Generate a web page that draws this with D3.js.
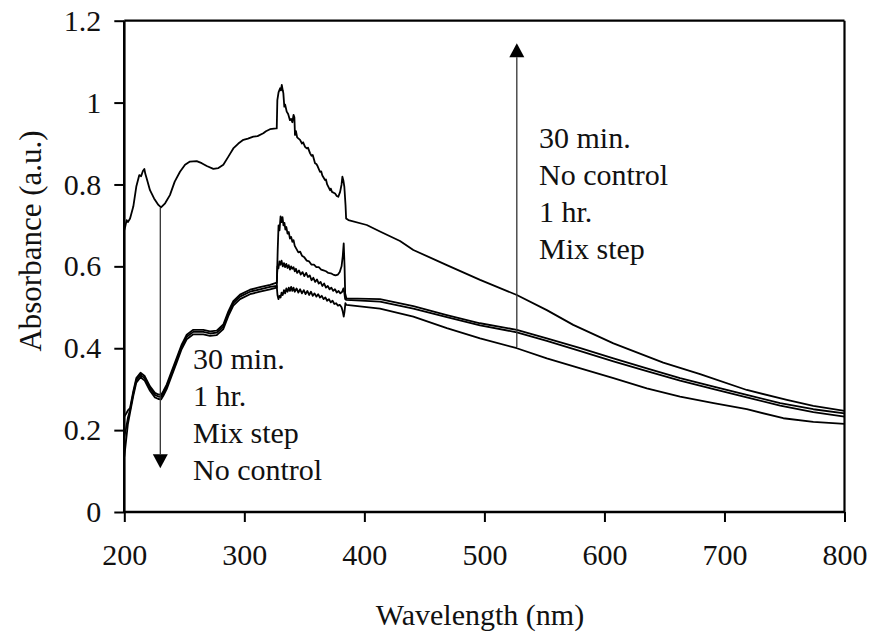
<!DOCTYPE html>
<html><head><meta charset="utf-8">
<script src="https://cdn.jsdelivr.net/npm/d3@7"></script>
<style>html,body{margin:0;padding:0;background:#fff;}</style>
</head>
<body><svg id="chart" width="873" height="639"></svg>
<script>
// ---------- data ----------
const xTicks = [200, 300, 400, 500, 600, 700, 800];
const yTicks = [0, 0.2, 0.4, 0.6, 0.8, 1, 1.2];
const yTickLabels = ["0", "0.2", "0.4", "0.6", "0.8", "1", "1.2"];
const xTitle = "Wavelength (nm)";
const yTitle = "Absorbance (a.u.)";
const labelsDown = ["30 min.", "1 hr.", "Mix step", "No control"];
const labelsUp = ["30 min.", "No control", "1 hr.", "Mix step"];

// [wavelength nm, absorbance]
const thirtyMin = [[200,0.689],[201,0.70],[202,0.713],[203,0.708],[204.8,0.717],[207.5,0.746],[210,0.795],[212.5,0.823],[214,0.82],[215.5,0.833],[216.7,0.838],[217.5,0.826],[218.6,0.815],[221.4,0.786],[224.8,0.766],[228.4,0.750],[230.6,0.744],[234,0.754],[238,0.774],[242,0.807],[246.4,0.831],[250.6,0.848],[254.7,0.856],[260.3,0.857],[264.5,0.852],[268.7,0.845],[274.2,0.838],[278.4,0.840],[282.5,0.848],[286.7,0.868],[290.8,0.888],[295,0.900],[299.2,0.909],[303,0.912],[307.5,0.917],[311,0.918],[315.8,0.925],[318,0.93],[321.4,0.935],[326.4,0.937],[327,0.937],[327.5,1.006],[328.5,1.025],[329.8,1.035],[330.5,1.03],[331.2,1.043],[332,1.03],[332.5,1.023],[333.3,0.99],[334,0.995],[335.3,0.978],[336.5,0.972],[338,0.957],[339,0.96],[340,0.952],[341,0.97],[341.7,0.964],[342.2,0.921],[343,0.93],[344,0.915],[346.4,0.909],[348,0.9],[349,0.903],[350.6,0.892],[352,0.888],[353,0.89],[354.8,0.876],[356,0.87],[357,0.872],[358.9,0.852],[360,0.85],[361,0.845],[363,0.831],[364,0.832],[365,0.822],[367.2,0.811],[368,0.812],[369,0.8],[371.4,0.786],[372,0.79],[373,0.782],[375.6,0.778],[377,0.772],[378.3,0.770],[379.8,0.782],[381,0.80],[381.7,0.819],[382.5,0.81],[383.3,0.795],[384.3,0.75],[384.8,0.717],[386.7,0.713],[402,0.701],[413,0.685],[429.7,0.662],[440.8,0.640],[468.7,0.603],[496.4,0.567],[527,0.530],[552,0.493],[574,0.457],[607.5,0.412],[649,0.365],[679.7,0.337],[718.6,0.298],[752,0.274],[774,0.259],[800,0.247]];

const noControl = [[200,0.135],[201.5,0.175],[203,0.215],[204.8,0.243],[207.5,0.284],[210,0.316],[213.5,0.329],[217,0.321],[221.4,0.296],[225.5,0.280],[228.4,0.276],[230.6,0.275],[232.5,0.284],[235.3,0.300],[239.5,0.333],[243.6,0.365],[247.8,0.398],[252,0.422],[257.5,0.434],[265.8,0.434],[271.4,0.430],[277,0.432],[282.5,0.447],[286.7,0.479],[290.8,0.504],[296.4,0.520],[304.7,0.532],[313,0.538],[321.4,0.544],[327,0.548],
 [327.8,0.64],[328.5,0.70],[329.3,0.688],[330.2,0.722],[331,0.708],[331.8,0.72],[332.6,0.70],[333.4,0.706],[334.2,0.69],[335,0.696],[336,0.68],[337,0.684],[338,0.668],[339,0.672],[340,0.66],[341,0.664],[342,0.65],[343.5,0.642],[345,0.634],[346.5,0.636],[348,0.626],[350,0.622],[352,0.614],[354,0.612],[356,0.604],[358,0.604],[360,0.598],[362,0.598],[364,0.592],[366,0.59],[368,0.588],[370,0.584],[372,0.583],[374,0.58],[376,0.578],[378,0.58],[379.5,0.586],[381,0.6],[382,0.625],[382.8,0.656],[383.5,0.60],[384,0.534],[385,0.522],
 [413,0.520],[440.8,0.503],[468.7,0.481],[496.4,0.461],[527,0.445],[552,0.424],[580,0.400],[607.5,0.375],[635.3,0.351],[663,0.327],[691,0.306],[718.6,0.286],[746.4,0.266],[774,0.251],[800,0.241]];

const oneHr = [[200,0.233],[201.5,0.24],[203,0.248],[204.8,0.254],[207.5,0.295],[210,0.327],[213.5,0.340],[217,0.332],[221.4,0.307],[225.5,0.291],[228.4,0.287],[230.6,0.286],[232.5,0.295],[235.3,0.311],[239.5,0.344],[243.6,0.376],[247.8,0.409],[252,0.433],[257.5,0.445],[265.8,0.445],[271.4,0.441],[277,0.443],[282.5,0.458],[286.7,0.490],[290.8,0.515],[296.4,0.531],[304.7,0.543],[313,0.549],[321.4,0.555],[327,0.56],
 [327.6,0.6],[328.4,0.595],[329.2,0.612],[330,0.604],[331,0.614],[332,0.6],[333,0.608],[334,0.598],[335,0.606],[336,0.596],[337,0.603],[338,0.592],[339,0.6],[340,0.594],[341,0.598],[342,0.588],[343,0.594],[344,0.584],[345.5,0.59],[347,0.58],[348.5,0.586],[350,0.576],[351.5,0.584],[353,0.574],[354.5,0.578],[356,0.566],[357.5,0.572],[359,0.562],[360.5,0.568],[362,0.558],[363.5,0.562],[365,0.552],[366.5,0.558],[368,0.548],[369.5,0.552],[371,0.544],[372.5,0.548],[374,0.54],[375.5,0.544],[377,0.536],[378.5,0.54],[380,0.534],[381.5,0.538],[382.5,0.546],[383.3,0.536],[384,0.52],[385,0.518],
 [413,0.514],[440.8,0.497],[468.7,0.476],[496.4,0.456],[527,0.439],[552,0.418],[580,0.393],[607.5,0.368],[635.3,0.344],[663,0.321],[691,0.300],[718.6,0.280],[746.4,0.260],[774,0.244],[800,0.233]];

const mixStep = [[200,0.184],[201.5,0.205],[203,0.23],[204.8,0.249],[207.5,0.29],[210,0.322],[213.5,0.335],[217,0.327],[221.4,0.302],[225.5,0.286],[228.4,0.282],[230.6,0.281],[232.5,0.29],[235.3,0.306],[239.5,0.339],[243.6,0.371],[247.8,0.404],[252,0.428],[257.5,0.44],[265.8,0.44],[271.4,0.436],[277,0.438],[282.5,0.453],[286.7,0.485],[290.8,0.51],[296.4,0.526],[304.7,0.538],[313,0.544],[321.4,0.550],[327,0.552],
 [327.6,0.53],[328.4,0.52],[329.3,0.528],[330.2,0.524],[331,0.536],[332,0.53],[333,0.542],[334,0.534],[335,0.546],[336,0.538],[337,0.548],[338,0.54],[339,0.55],[340,0.54],[341,0.548],[342,0.538],[343.5,0.546],[345,0.536],[346.5,0.544],[348,0.534],[349.5,0.542],[351,0.532],[352.5,0.54],[354,0.53],[355.5,0.538],[357,0.528],[358.5,0.534],[360,0.526],[361.5,0.532],[363,0.524],[364.5,0.528],[366,0.52],[367.5,0.524],[369,0.516],[370.5,0.52],[372,0.512],[373.5,0.516],[375,0.508],[376.5,0.51],[378,0.504],[379.5,0.506],[381,0.5],[382,0.49],[382.8,0.477],[383.5,0.49],[384.2,0.51],[385,0.506],
 [413,0.497],[440.8,0.477],[468.7,0.449],[496.4,0.424],[527,0.400],[552,0.375],[580,0.351],[607.5,0.327],[635.3,0.302],[663,0.282],[691,0.266],[718.6,0.251],[749,0.229],[774,0.220],[800,0.215]];

const seriesList = [thirtyMin, noControl, oneHr, mixStep];

// arrows: [wavelength, from value, to value]
const arrowDown = [230, 0.743, 0.107];
const arrowUp = [527, 0.403, 1.145];

// ---------- drawing ----------
const FONT = '"Liberation Serif"';
const svg = d3.select("#chart");
const x = d3.scaleLinear().domain([200, 800]).range([124.3, 844.5]);
const y = d3.scaleLinear().domain([0, 1.2]).range([512, 20.7]);

// frame (top & right)
svg.append("line").attr("x1", x(200)).attr("x2", x(800)).attr("y1", y(1.2)).attr("y2", y(1.2))
  .attr("stroke", "#000").attr("stroke-width", 2.2);
svg.append("line").attr("x1", x(800)).attr("x2", x(800)).attr("y1", y(1.2)).attr("y2", y(0))
  .attr("stroke", "#000").attr("stroke-width", 2.2);

const gx = svg.append("g").attr("transform", `translate(0,${y(0)})`)
  .call(d3.axisBottom(x).tickValues(xTicks).tickSize(10).tickPadding(22).tickFormat(d3.format("d")));
const gy = svg.append("g").attr("transform", `translate(${x(200)},0)`)
  .call(d3.axisLeft(y).tickValues(yTicks).tickSize(10).tickPadding(13).tickFormat((d, i) => yTickLabels[i]));
[gx, gy].forEach(g => {
  g.attr("font-family", null).attr("font-size", null);
  g.select(".domain").attr("stroke", "#000").attr("stroke-width", 2.6);
  g.selectAll(".tick line").attr("stroke", "#000").attr("stroke-width", 2);
  g.selectAll(".tick text").style("font-family", FONT).style("font-size", "30px").attr("fill", "#111");
});
gy.select(".domain").attr("d", `M0,${y(0)}V${y(1.2)}`);
gx.select(".domain").attr("d", `M${x(200)},0H${x(800)}`);

// curves
const line = d3.line().x(d => x(d[0])).y(d => y(d[1]));
svg.append("g").selectAll("path").data(seriesList).join("path")
  .attr("d", line).attr("fill", "none").attr("stroke", "#000")
  .attr("stroke-width", 1.8).attr("stroke-linejoin", "round");

// arrows
function arrow(a, dir) {
  const ax = x(a[0]), y1 = y(a[1]), y2 = y(a[2]);
  const head = 14, hw = 7.5;
  svg.append("line").attr("x1", ax).attr("x2", ax).attr("y1", y1).attr("y2", y2 - dir * head)
    .attr("stroke", "#333").attr("stroke-width", 1.3);
  svg.append("path").attr("d", `M${ax},${y2}L${ax - hw},${y2 - dir * head}L${ax + hw},${y2 - dir * head}Z`)
    .attr("fill", "#000");
}
arrow(arrowDown, 1);
arrow(arrowUp, -1);

// annotation labels
function labels(list, lx, ly) {
  svg.append("g").selectAll("text").data(list).join("text")
    .attr("x", lx).attr("y", (d, i) => ly + i * 37).attr("fill", "#111")
    .style("font-family", FONT).style("font-size", "30px").text(d => d);
}
labels(labelsDown, 193, 369);
labels(labelsUp, 539, 148);

// axis titles
svg.append("text").attr("x", 480).attr("y", 625).attr("text-anchor", "middle").attr("fill", "#111")
  .style("font-family", FONT).style("font-size", "30px").text(xTitle);
svg.append("text").attr("transform", "translate(41,241) rotate(-90)").attr("text-anchor", "middle").attr("fill", "#111")
  .style("font-family", FONT).style("font-size", "31px").text(yTitle);
</script></body></html>
